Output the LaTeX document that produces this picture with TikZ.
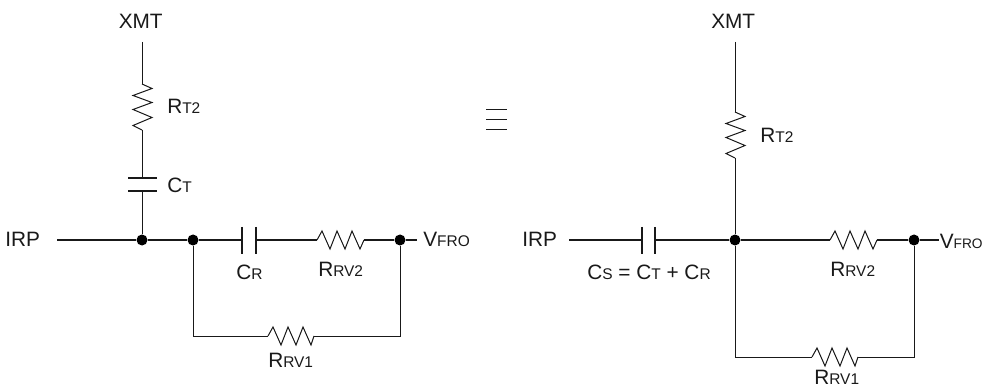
\documentclass[tikz,border=0pt]{standalone}
\usepackage{fontspec}
\setmainfont{Liberation Sans}
\newcommand{\mainsz}{\fontsize{15.6}{17}\selectfont}
\newcommand{\subsz}{\fontsize{11.6}{13}\selectfont}
\newcommand{\lb}[2]{{\mainsz #1}{\subsz #2}}
\newcommand{\hres}[2]{\draw[wire] (#1) -- ++(5,-9) -- ++(8,18) -- ++(7,-18) -- ++(8,18) -- ++(7,-18) -- ++(8,18) -- (#2);}
\newcommand{\vres}[2]{\draw[wire] (#1) -- ++(10,4.5) -- ++(-19,7) -- ++(19,7) -- ++(-19,7) -- ++(19,8) -- ++(-19,8) -- (#2);}
\tikzset{
  wire/.style={line width=0.75pt,line join=miter,color=black!90},
  plate/.style={line width=1pt,color=black!90},
  dotnode/.style={circle,fill=black,inner sep=0pt,minimum size=8.25pt},
  txt/.style={inner sep=0pt,anchor=base west,text=black!90,font=\mainsz}
}
\begin{document}
\begin{tikzpicture}[x=0.75pt,y=-0.75pt]
\useasboundingbox (0,0) rectangle (984,388);
% ---------- left circuit
\node[txt] (lxmt) at (118.5,29) {XMT};
\coordinate (ltop) at (142,42);
\coordinate (lr1) at (142,84);
\coordinate (lr2) at (142,130);
\coordinate (lc1) at (142,178);
\coordinate (lc2) at (142,191);
\node[dotnode] (lj1) at (142,240) {};
\node[dotnode] (lj2) at (193,240) {};
\node[dotnode] (lj3) at (400,240) {};
\coordinate (lin) at (57,240);
\coordinate (lout) at (417,240);
\coordinate (lp1) at (242,240);
\coordinate (lp2) at (256,240);
\coordinate (lr3) at (317,240);
\coordinate (lr4) at (364,240);
\coordinate (lbl) at (193,336);
\coordinate (lbr) at (400,336);
\coordinate (lr5) at (268,336);
\coordinate (lr6) at (314,336);
\draw[wire] (ltop) -- (lr1);
\vres{lr1}{lr2}
\draw[wire] (lr2) -- (lc1);
\draw[plate] (128,178) -- (157,178);
\draw[plate] (128,191) -- (157,191);
\draw[wire] (lc2) -- (lj1);
\draw[wire] (lin) -- (lj1) -- (lj2) -- (lp1);
\draw[plate] (242,227) -- (242,254);
\draw[plate] (256,227) -- (256,254);
\draw[wire] (lp2) -- (lr3);
\hres{lr3}{lr4}
\draw[wire] (lr4) -- (lj3) -- (lout);
\draw[wire] (lj2) -- (lbl) -- (lr5);
\hres{lr5}{lr6}
\draw[wire] (lr6) -- (lbr) -- (lj3);
\node[txt] (lrt2) at (167,114) {\lb{R}{T2}};
\node[txt] (lct) at (167,193) {\lb{C}{T}};
\node[txt] (lirp) at (5,247) {IRP};
\node[txt] (lcr) at (236,279) {\lb{C}{R}};
\node[txt] (lrv2) at (318,276) {\lb{R}{RV2}};
\node[txt] (lrv1) at (268,367) {\lb{R}{RV1}};
\node[txt] (lv) at (423,247) {\lb{V}{FRO}};
% ---------- equivalence sign
\coordinate (e1a) at (486,110); \coordinate (e1b) at (507,110);
\coordinate (e2a) at (486,120); \coordinate (e2b) at (507,120);
\coordinate (e3a) at (486,130); \coordinate (e3b) at (507,130);
\draw[wire] (e1a) -- (e1b);
\draw[wire] (e2a) -- (e2b);
\draw[wire] (e3a) -- (e3b);
% ---------- right circuit
\node[txt] (rxmt) at (711,29) {XMT};
\coordinate (rtop) at (735,42);
\coordinate (rr1) at (735,112);
\coordinate (rr2) at (735,158);
\node[dotnode] (rj1) at (735,240) {};
\node[dotnode] (rj2) at (914,240) {};
\coordinate (rin) at (569,240);
\coordinate (rout) at (939,240);
\coordinate (rp1) at (642,240);
\coordinate (rp2) at (655,240);
\coordinate (rr3) at (830,240);
\coordinate (rr4) at (877,240);
\coordinate (rbl) at (735,357);
\coordinate (rbr) at (914,357);
\coordinate (rr5) at (812,357);
\coordinate (rr6) at (858,357);
\draw[wire] (rtop) -- (rr1);
\vres{rr1}{rr2}
\draw[wire] (rr2) -- (rj1);
\draw[wire] (rin) -- (rp1);
\draw[plate] (642,227) -- (642,254);
\draw[plate] (655,227) -- (655,254);
\draw[wire] (rp2) -- (rj1) -- (rr3);
\hres{rr3}{rr4}
\draw[wire] (rr4) -- (rj2) -- (rout);
\draw[wire] (rj1) -- (rbl) -- (rr5);
\hres{rr5}{rr6}
\draw[wire] (rr6) -- (rbr) -- (rj2);
\node[txt] (rrt2) at (760,143) {\lb{R}{T2}};
\node[txt] (rirp) at (522,247) {IRP};
\node[txt] (rcs) at (587,279) {\lb{C}{S} = \lb{C}{T} + \lb{C}{R}};
\node[txt] (rrv2) at (830,276) {\lb{R}{RV2}};
\node[txt] (rrv1) at (814,384.5) {\lb{R}{RV1}};
\node[txt] (rv) at (939.5,248) {{\mainsz V}{\fontsize{10.3}{12}\selectfont FRO}};
\end{tikzpicture}
\end{document}
